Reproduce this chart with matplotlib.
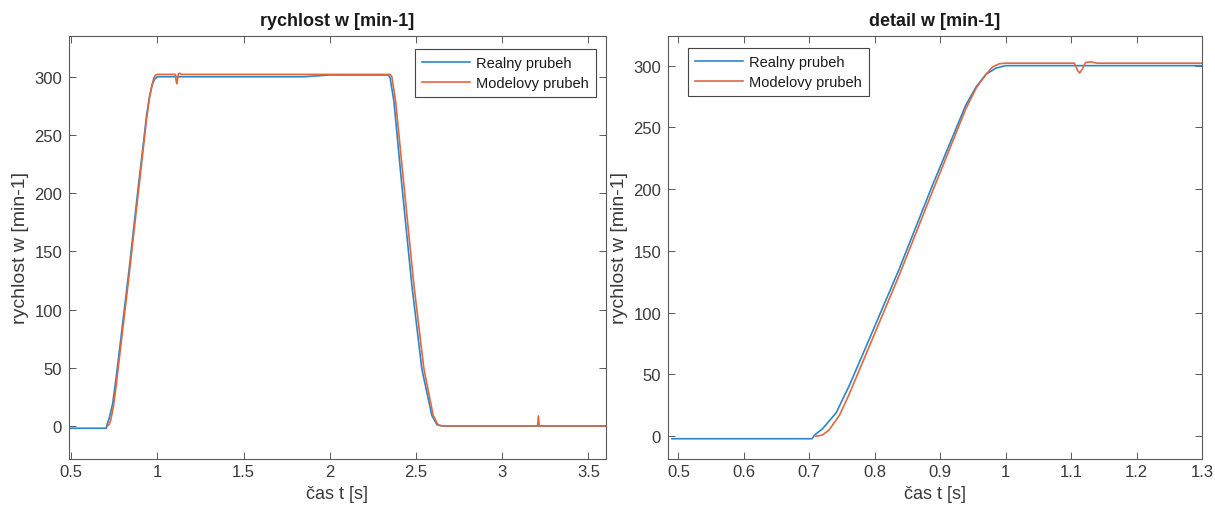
import matplotlib
matplotlib.use("Agg")
import matplotlib.pyplot as plt
from matplotlib.ticker import FuncFormatter

plt.rcParams['font.family'] = ['Liberation Sans', 'DejaVu Sans']

# Real measured speed (Realny prubeh)
real_t = [0.49, 0.704, 0.708, 0.72, 0.741, 0.761, 0.787, 0.837, 0.888, 0.939, 0.955,
          0.97, 0.985, 1.0, 1.02, 1.85, 1.9, 1.95, 2.0, 2.34, 2.35, 2.372, 2.418,
          2.476, 2.534, 2.592, 2.622, 2.65, 3.6]
real_w = [-2, -2, 1, 6, 19, 41, 73, 135, 203, 268, 283,
          293, 298, 300, 300, 300, 300.5, 301, 301.5, 301.5, 299, 279, 207,
          121, 49, 9, 1, 0, 0]

# Model speed (Modelovy prubeh)
model_t = [0.71, 0.72, 0.73, 0.746, 0.76, 0.787, 0.837, 0.888, 0.939, 0.955, 0.97,
           0.98, 0.99, 1.0, 1.02, 1.105, 1.11, 1.113, 1.117, 1.122, 1.13, 1.14,
           2.35, 2.36, 2.382, 2.43, 2.488, 2.546, 2.6, 2.627, 2.65, 3.205, 3.21,
           3.215, 3.6]
model_w = [0, 1, 5, 17, 33, 67, 130, 198, 265, 282, 293,
           299, 301.5, 302, 302, 302, 296, 294, 297, 302.5, 303, 302,
           302, 300, 279, 207, 121, 49, 9, 1, 0, 0, 8.5,
           0, 0]

labels = ["Realny prubeh", "Modelovy prubeh"]
titles = ["rychlost w [min-1]", "detail w [min-1]"]
xlabel = "čas t [s]"
ylabel = "rychlost w [min-1]"

left_xticks = [0.5, 1, 1.5, 2, 2.5, 3, 3.5]
right_xticks = [0.5, 0.6, 0.7, 0.8, 0.9, 1.0, 1.1, 1.2, 1.3]
yticks = [0, 50, 100, 150, 200, 250, 300]

c_blue = '#2a86cc'
c_orange = '#E0683C'
txt = '#3a3a3a'
edge = '#5a5a5a'

W, H = 1215, 506
fig = plt.figure(figsize=(W / 100, H / 100), dpi=100)
fig.patch.set_facecolor('white')

top_px, bot_px = 37, 459.5
ax1 = fig.add_axes([69 / W, (H - bot_px) / H, (606 - 69) / W, (bot_px - top_px) / H])
ax2 = fig.add_axes([668 / W, (H - bot_px) / H, (1202 - 668) / W, (bot_px - top_px) / H])

fmt = FuncFormatter(lambda v, p: ('%g' % round(v, 6)))

# legend boxes (figure pixel coordinates: left, top)
leg_specs = [(415, 50), (688, 49)]

for ax, title, xt, xl, yl, lspec in [
        (ax1, titles[0], left_xticks, (0.488, 3.602), (-28, 335), leg_specs[0]),
        (ax2, titles[1], right_xticks, (0.484, 1.3), (-18, 324), leg_specs[1])]:
    ax.plot(real_t, real_w, color=c_blue, lw=1.2, label=labels[0])
    ax.plot(model_t, model_w, color=c_orange, lw=1.2, label=labels[1])
    ax.set_xlim(*xl)
    ax.set_ylim(*yl)
    ax.set_xticks(xt)
    ax.set_yticks(yticks)
    ax.xaxis.set_major_formatter(fmt)
    ax.tick_params(direction='in', length=5, width=0.7, top=True, right=True,
                   colors=edge, labelcolor=txt, labelsize=12)
    ax.tick_params(axis='x', pad=4)
    ax.tick_params(axis='y', pad=5)
    for s in ax.spines.values():
        s.set_color(edge)
        s.set_linewidth(0.8)
    ax.set_title(title, fontsize=13, fontweight='bold', color='#1a1a1a', pad=8)
    ax.set_xlabel(xlabel, fontsize=13, color=txt, labelpad=4)
    ax.set_ylabel(ylabel, fontsize=14, color=txt, labelpad=4)
    leg = ax.legend(loc='upper left',
                    bbox_to_anchor=(lspec[0] / W, 1 - lspec[1] / H),
                    bbox_transform=fig.transFigure,
                    fontsize=10.5, frameon=True, fancybox=False,
                    edgecolor='#444444', framealpha=1, handlelength=3.3,
                    handletextpad=0.35, borderpad=0.5, labelspacing=0.4,
                    borderaxespad=0.0)
    leg.get_frame().set_linewidth(0.8)
    for t in leg.get_texts():
        t.set_color('#1a1a1a')

fig.savefig('out.png', dpi=100)
